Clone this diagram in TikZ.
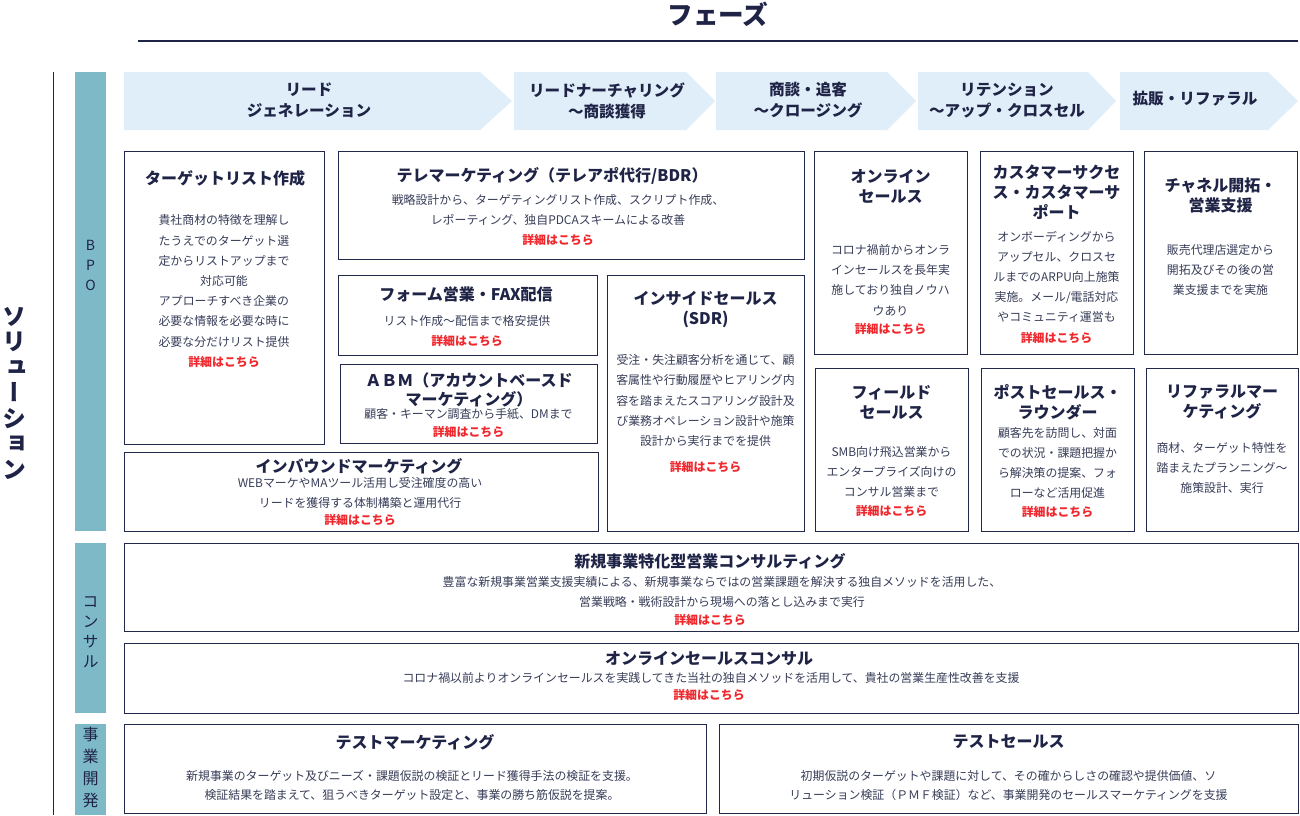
\documentclass[tikz,border=0pt]{standalone}
\usepackage{fontspec}
\setmainfont{Noto Sans CJK JP}
\newfontfamily\vfont{Noto Sans CJK JP}[RawFeature=+vert]
\definecolor{navy}{HTML}{1F2447}
\definecolor{bordc}{HTML}{222848}
\definecolor{bodyc}{HTML}{383D58}
\definecolor{redc}{HTML}{F0282D}
\definecolor{tealc}{HTML}{7EB9C7}
\definecolor{phasec}{HTML}{DFEEF8}
\tikzset{
  box/.style={draw=bordc, line width=1.3pt, fill=white, inner sep=0, anchor=north west},
  ttl/.style={text=navy, font=\bfseries\fontsize{16}{20}\selectfont, align=center, inner sep=0},
  bdy/.style={text=bodyc, font=\fontsize{11.9}{20.2}\selectfont, align=center, inner sep=0},
  lnk/.style={text=redc, font=\bfseries\fontsize{11.9}{14}\selectfont, inner sep=0},
  phs/.style={fill=phasec},
  phtxt/.style={text=navy, font=\bfseries\fontsize{15.6}{21}\selectfont, align=center, inner sep=0},
  cat/.style={fill=tealc, draw=none, inner sep=0, anchor=north west},
  cattxt/.style={text=navy, align=center, inner sep=0}
}
\newcommand{\Bx}[5]{\node[box, minimum width={(#4-#2)*1pt}, minimum height={(#5-#3)*1pt}] (#1) at (#2,#3) {};}
\newcommand{\Cat}[5]{\node[cat, minimum width={(#4-#2)*1pt}, minimum height={(#5-#3)*1pt}] (#1) at (#2,#3) {};}
\begin{document}
\begin{tikzpicture}[x=1pt,y=-1pt]
\useasboundingbox[fill=white] (0,0) rectangle (1300,815);

% header
\node[text=navy, font=\bfseries\fontsize{25.6}{28}\selectfont, inner sep=0] (phasehead) at (718,14) {フェーズ};
\coordinate (hl1) at (138,41);
\coordinate (hl2) at (1298,41);
\draw[navy, line width=1.2pt] (hl1) -- (hl2);

% left solution axis
\coordinate (vl1) at (53,72);
\coordinate (vl2) at (53,815);
\draw[navy, line width=1pt] (vl1) -- (vl2);
\node[cattxt, font=\vfont\bfseries\fontsize{24}{25.5}\selectfont] (solution) at (14,393) {ソ\\リ\\ュ\\ー\\シ\\ョ\\ン};

% category bars
\Cat{bpo}{75}{72}{106}{531}
\Cat{consul}{75}{543}{106}{713}
\Cat{jigyo}{75}{724}{106}{815}
\node[cattxt, font=\fontsize{14}{20}\selectfont] (bpot) at (90.5,265) {B\\P\\O};
\node[cattxt, font=\vfont\fontsize{16}{20}\selectfont] (consult) at (90.5,632) {コ\\ン\\サ\\ル};
\node[cattxt, font=\vfont\fontsize{16}{22}\selectfont] (jigyot) at (90.5,767) {事\\業\\開\\発};

% phase arrows
\fill[phs] (124,72) -- (480,72) -- (512,101) -- (480,130) -- (124,130) -- cycle;
\fill[phs] (514,72) -- (686,72) -- (715,101) -- (686,130) -- (514,130) -- cycle;
\fill[phs] (716,72) -- (887,72) -- (916,101) -- (887,130) -- (716,130) -- cycle;
\fill[phs] (918,72) -- (1088,72) -- (1116,101) -- (1088,130) -- (918,130) -- cycle;
\fill[phs] (1120,72) -- (1268,72) -- (1298,101) -- (1268,130) -- (1120,130) -- cycle;
\node[phtxt] (ph1) at (309,100.5) {リード\\ジェネレーション};
\node[phtxt] (ph2) at (607,100.5) {リードナーチャリング\\～商談獲得};
\node[phtxt] (ph3) at (808,100.5) {商談・追客\\～クロージング};
\node[phtxt] (ph4) at (1007,100.5) {リテンション\\～アップ・クロスセル};
\node[phtxt] (ph5) at (1195,99) {拡販・リファラル};

% BPO boxes
\Bx{b1}{124}{151}{324}{444}
\node[ttl] (b1t) at (225,178) {ターゲットリスト作成};
\node[bdy] (b1b) at (224,281) {貴社商材の特徴を理解し\\たうえでのターゲット選\\定からリストアップまで\\対応可能\\アプローチすべき企業の\\必要な情報を必要な時に\\必要な分だけリスト提供};
\node[lnk] (b1l) at (224,362) {詳細はこちら};

\Bx{b2}{338}{151}{804}{259}
\node[ttl] (b2t) at (552,176) {テレマーケティング（テレアポ代行/BDR）};
\node[bdy] (b2b) at (558,210) {戦略設計から、ターゲティングリスト作成、スクリプト作成、\\レポーティング、独自PDCAスキームによる改善};
\node[lnk] (b2l) at (558,240) {詳細はこちら};

\Bx{b3}{338}{275}{597}{355}
\node[ttl] (b3t) at (466,294) {フォーム営業・FAX配信};
\node[bdy] (b3b) at (467,321) {リスト作成～配信まで格安提供};
\node[lnk] (b3l) at (467,341) {詳細はこちら};

\Bx{b4}{340}{364}{597}{443}
\node[ttl, font=\bfseries\fontsize{16}{19}\selectfont] (b4t) at (469,389.5) {ＡＢＭ（アカウントベースド\\マーケティング）};
\node[bdy] (b4b) at (468.5,414) {顧客・キーマン調査から手紙、DMまで};
\node[lnk] (b4l) at (468.5,432) {詳細はこちら};

\Bx{b5}{124}{452}{598}{531}
\node[ttl] (b5t) at (359,466) {インバウンドマーケティング};
\node[bdy] (b5b) at (360,493) {WEBマーケやMAツール活用し受注確度の高い\\リードを獲得する体制構築と運用代行};
\node[lnk] (b5l) at (360,520) {詳細はこちら};

\Bx{b6}{607}{275}{804}{531}
\node[ttl] (b6t) at (705.5,310) {インサイドセールス\\(SDR)};
\node[bdy] (b6b) at (705.5,400.5) {受注・失注顧客分析を通じて、顧\\客属性や行動履歴やヒアリング内\\容を踏まえたスコアリング設計及\\び業務オペレーション設計や施策\\設計から実行までを提供};
\node[lnk] (b6l) at (705.5,467) {詳細はこちら};

\Bx{b7}{814}{151}{967}{354}
\node[ttl] (b7t) at (890.5,186) {オンライン\\セールス};
\node[bdy] (b7b) at (890.5,280) {コロナ禍前からオンラ\\インセールスを長年実\\施しており独自ノウハ\\ウあり};
\node[lnk] (b7l) at (890.5,329) {詳細はこちら};

\Bx{b8}{980}{151}{1133}{354}
\node[ttl] (b8t) at (1056.5,192) {カスタマーサクセ\\ス・カスタマーサ\\ポート};
\node[bdy] (b8b) at (1056.5,277) {オンボーディングから\\アップセル、クロスセ\\ルまでのARPU向上施策\\実施。メール/電話対応\\やコミュニティ運営も};
\node[lnk] (b8l) at (1056.5,338) {詳細はこちら};

\Bx{b9}{1144}{151}{1297}{354}
\node[ttl] (b9t) at (1220.5,195) {チャネル開拓・\\営業支援};
\node[bdy] (b9b) at (1220.5,270) {販売代理店選定から\\開拓及びその後の営\\業支援までを実施};

\Bx{b10}{815}{368}{968}{531}
\node[ttl, font=\bfseries\fontsize{16}{19.5}\selectfont] (b10t) at (891.5,402.5) {フィールド\\セールス};
\node[bdy] (b10b) at (891.5,472) {SMB向け飛込営業から\\エンタープライズ向けの\\コンサル営業まで};
\node[lnk] (b10l) at (891.5,511) {詳細はこちら};

\Bx{b11}{981}{368}{1134}{531}
\node[ttl] (b11t) at (1057.5,402) {ポストセールス・\\ラウンダー};
\node[bdy] (b11b) at (1057.5,463) {顧客先を訪問し、対面\\での状況・課題把握か\\ら解決策の提案、フォ\\ローなど活用促進};
\node[lnk] (b11l) at (1057.5,512) {詳細はこちら};

\Bx{b12}{1146}{368}{1298}{531}
\node[ttl] (b12t) at (1222,402) {リファラルマー\\ケティング};
\node[bdy] (b12b) at (1222,468) {商材、ターゲット特性を\\踏まえたプランニング～\\施策設計、実行};

% consulting
\Bx{c1}{124}{543}{1298}{631}
\node[ttl] (c1t) at (710,561) {新規事業特化型営業コンサルティング};
\node[bdy] (c1b) at (722,592) {豊富な新規事業営業支援実績による、新規事業ならではの営業課題を解決する独自メソッドを活用した、\\営業戦略・戦術設計から現場への落とし込みまで実行};
\node[lnk] (c1l) at (710,620) {詳細はこちら};

\Bx{c2}{124}{643}{1298}{713}
\node[ttl] (c2t) at (709,658) {オンラインセールスコンサル};
\node[bdy] (c2b) at (711,678) {コロナ禍以前よりオンラインセールスを実践してきた当社の独自メソッドを活用して、貴社の営業生産性改善を支援};
\node[lnk] (c2l) at (709,695) {詳細はこちら};

% new business development
\Bx{j1}{124}{724}{706}{813}
\node[ttl] (j1t) at (415,742) {テストマーケティング};
\node[bdy, font=\fontsize{11.9}{19.5}\selectfont] (j1b) at (412,785.5) {新規事業のターゲット及びニーズ・課題仮説の検証とリード獲得手法の検証を支援。\\検証結果を踏まえて、狙うべきターゲット設定と、事業の勝ち筋仮説を提案。};

\Bx{j2}{719}{724}{1298}{813}
\node[ttl] (j2t) at (1008.5,742) {テストセールス};
\node[bdy, font=\fontsize{11.9}{19.5}\selectfont] (j2b) at (1008.5,785.5) {初期仮説のターゲットや課題に対して、その確からしさの確認や提供価値、ソ\\リューション検証（ＰＭＦ検証）など、事業開発のセールスマーケティングを支援};
\end{tikzpicture}
\end{document}
